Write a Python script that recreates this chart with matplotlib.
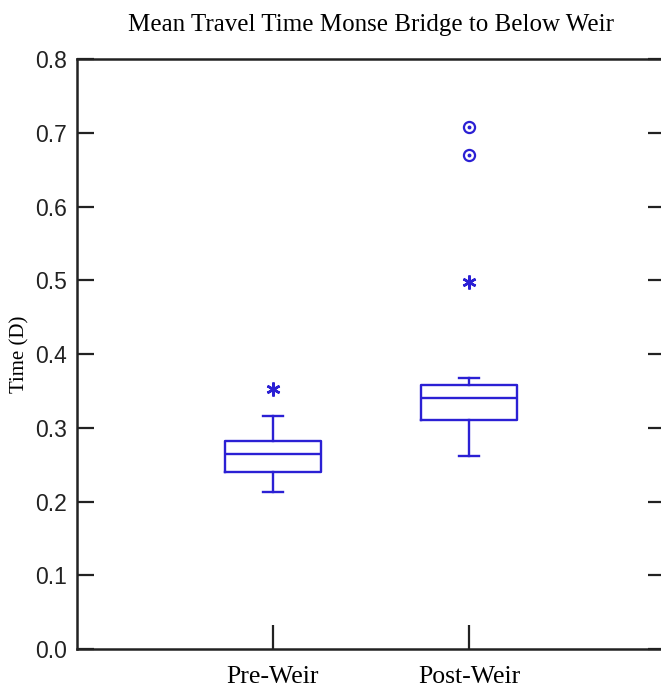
"""Box plot of mean travel time, Monse Bridge to below the weir."""

import matplotlib
matplotlib.use("Agg")
import matplotlib.pyplot as plt

# summary statistics per period (days)
groups = ["Pre-Weir", "Post-Weir"]
medians = [0.264, 0.341]
q1 = [0.240, 0.310]
q3 = [0.282, 0.358]
whisker_low = [0.213, 0.262]
whisker_high = [0.316, 0.368]

# outside values (asterisk) and far-outside values (circle)
outside_values = [[0.3525], [0.498]]
far_outside_values = [[], [0.670, 0.708]]

yticks = [0.0, 0.1, 0.2, 0.3, 0.4, 0.5, 0.6, 0.7, 0.8]

BLUE = "#2b20d4"
INK = "#222222"

fig = plt.figure(figsize=(6.61, 6.92), dpi=100)
ax = fig.add_axes([0.1165, 0.0621, 0.8895, 0.8526])

stats = []
for i, g in enumerate(groups):
    stats.append({
        "label": g,
        "med": medians[i],
        "q1": q1[i],
        "q3": q3[i],
        "whislo": whisker_low[i],
        "whishi": whisker_high[i],
        "fliers": [],
    })

line = dict(color=BLUE, linewidth=1.7)
ax.bxp(stats, positions=[1, 2], widths=0.49, capwidths=0.1,
       showfliers=False, boxprops=line, medianprops=line,
       whiskerprops=line, capprops=line)

for i in range(len(groups)):
    pos = i + 1
    if outside_values[i]:
        ax.plot([pos] * len(outside_values[i]), outside_values[i],
                linestyle="none", marker=(6, 2, 0), markersize=10,
                markeredgewidth=1.8, color=BLUE)
    if far_outside_values[i]:
        ax.plot([pos] * len(far_outside_values[i]), far_outside_values[i],
                linestyle="none", marker="o", markersize=8,
                markerfacecolor="none", markeredgewidth=1.6, color=BLUE)
        ax.plot([pos] * len(far_outside_values[i]), far_outside_values[i],
                linestyle="none", marker="o", markersize=1.8, color=BLUE)

ax.set_xlim(0, 3)
ax.set_ylim(0, 0.8)
ax.set_yticks(yticks)
ax.set_yticklabels([f"{v:.1f}" for v in yticks],
                   fontfamily="Liberation Sans", fontsize=16.5, color=INK)
ax.set_xticks([1, 2])
ax.set_xticklabels(groups, fontfamily="Liberation Serif", fontsize=18.5)

ax.tick_params(axis="y", direction="in", length=12, width=1.6,
               right=True, pad=7, color=INK)
ax.tick_params(axis="x", direction="in", length=17, width=1.6,
               top=False, pad=12, color=INK)
for sp in ax.spines.values():
    sp.set_linewidth(1.8)
    sp.set_color(INK)

ax.set_ylabel("Time (D)", fontfamily="Liberation Serif", fontsize=15,
              labelpad=4)
ax.set_title("Mean Travel Time Monse Bridge to Below Weir",
             fontfamily="Liberation Serif", fontsize=18, pad=20)

fig.savefig("out.png", dpi=100)
